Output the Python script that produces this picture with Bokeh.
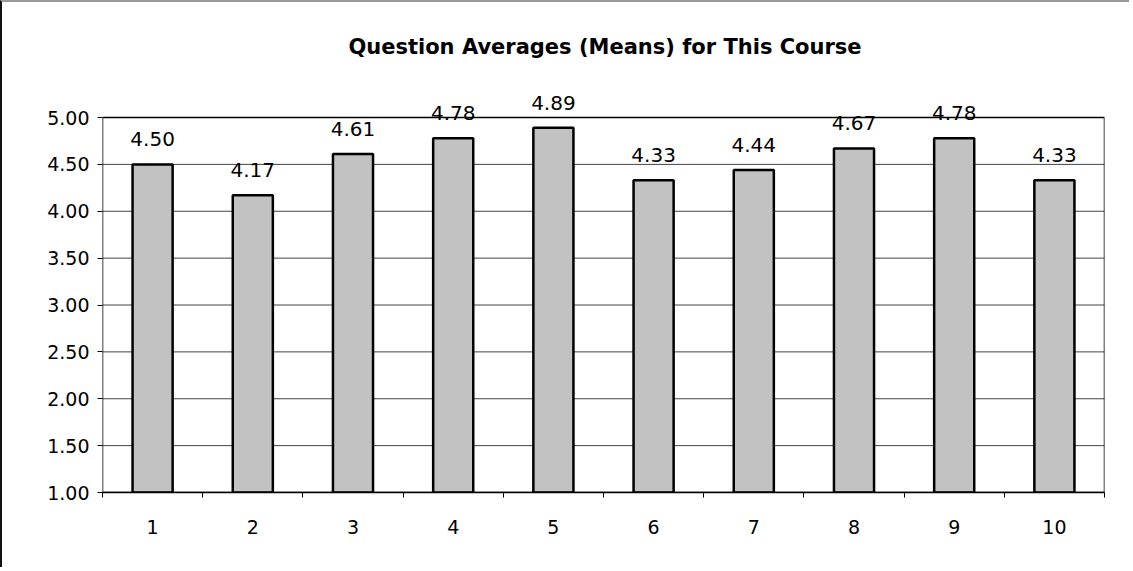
from bokeh.plotting import figure
from bokeh.models import (ColumnDataSource, LabelSet, Label, FixedTicker, Range1d,
                          NumeralTickFormatter)
from bokeh.core.properties import value
from bokeh.embed import file_html
from bokeh.resources import INLINE

questions = [1, 2, 3, 4, 5, 6, 7, 8, 9, 10]
means = [4.50, 4.17, 4.61, 4.78, 4.89, 4.33, 4.44, 4.67, 4.78, 4.33]
y_ticks = [1.0, 1.5, 2.0, 2.5, 3.0, 3.5, 4.0, 4.5, 5.0]
title_text = "Question Averages (Means) for This Course"

FONT = "DejaVu Sans"
Y_MIN, Y_MAX = 1.0, 5.0

src = ColumnDataSource(dict(
    x=questions,
    top=means,
    label=[f"{m:.2f}" for m in means],
))

# plot area: value axis 1..5, with headroom above (for title and labels)
p = figure(width=1129, height=567, output_backend="svg", toolbar_location=None,
           x_range=Range1d(0.5, 10.5), y_range=Range1d(Y_MIN, 5.928),
           min_border_left=100, min_border_right=27, min_border_top=28,
           min_border_bottom=77)
p.styles = {"border-left": "2px solid #111", "border-top": "2px solid #999"}

# grid lines (only inside the 1..5 box)
p.ygrid.grid_line_color = None
p.xgrid.grid_line_color = None
p.segment(x0=0.5, x1=10.5, y0=y_ticks[1:-1], y1=y_ticks[1:-1],
          line_color="#444444", line_width=1)

# frame of the value area
p.quad(left=0.5, right=10.5, bottom=Y_MIN, top=Y_MAX,
       fill_color=None, line_color="black", line_width=1.5)

p.vbar(x="x", top="top", bottom=Y_MIN, width=0.4, source=src,
       fill_color="#c2c2c2", line_color="black", line_width=2.5)

p.add_layout(LabelSet(x="x", y="top", text="label", source=src,
                      text_align="center", text_baseline="bottom",
                      y_offset=18, text_font=value(FONT), text_font_size="20px",
                      text_color="black"))

p.add_layout(Label(x=5.515, y=Y_MAX, y_offset=71, text=title_text,
                   text_align="center", text_baseline="middle",
                   text_font=FONT, text_font_size="21px",
                   text_font_style="bold", text_color="black"))

# axes
p.xaxis.ticker = FixedTicker(ticks=questions,
                             minor_ticks=[q - 0.5 for q in questions] + [10.5])
p.xaxis.major_tick_out = 0
p.xaxis.major_tick_in = 0
p.xaxis.minor_tick_out = 5
p.xaxis.minor_tick_in = 0
p.xaxis.minor_tick_line_color = "black"
p.xaxis.major_label_standoff = 22
p.xaxis.major_label_text_font = FONT
p.xaxis.major_label_text_font_size = "19px"
p.xaxis.major_label_text_color = "black"
p.xaxis.axis_line_color = "black"
p.xaxis.axis_line_width = 1.5

p.yaxis.ticker = FixedTicker(ticks=y_ticks, minor_ticks=[])
p.yaxis.formatter = NumeralTickFormatter(format="0.00")
p.yaxis.major_tick_out = 5
p.yaxis.major_tick_in = 0
p.yaxis.major_tick_line_color = "black"
p.yaxis.major_label_standoff = 8
p.yaxis.major_label_text_font = FONT
p.yaxis.major_label_text_font_size = "19px"
p.yaxis.major_label_text_color = "black"
p.yaxis.axis_line_color = None

p.outline_line_color = None
p.background_fill_color = "white"
p.border_fill_color = "white"

open("out.html", "w").write(file_html(p, INLINE))
